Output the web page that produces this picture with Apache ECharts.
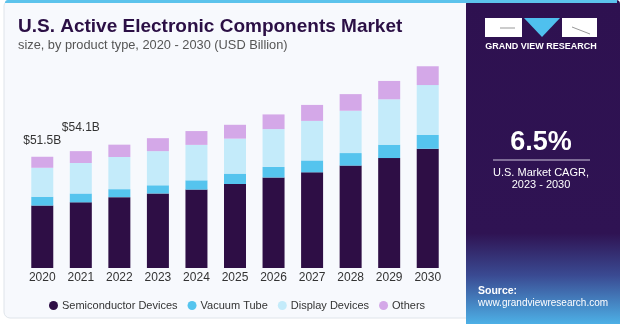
<!DOCTYPE html>
<html>
<head>
<meta charset="utf-8">
<script src="https://cdn.jsdelivr.net/npm/echarts@6/dist/echarts.min.js"></script>
<style>html,body{margin:0;padding:0;background:#fff}#c{width:620px;height:324px}</style>
</head>
<body>
<div id="c"></div>
<script>
const years = ['2020','2021','2022','2023','2024','2025','2026','2027','2028','2029','2030'];
const semiconductor = [28.9, 30.4, 32.8, 34.5, 36.3, 38.9, 41.9, 44.3, 47.4, 50.9, 55.2];
const vacuumTube = [4.1, 4.1, 3.7, 3.8, 4.3, 4.8, 4.9, 5.5, 5.8, 6.2, 6.4];
const displayDevices = [13.4, 14.1, 14.9, 15.8, 16.4, 16.2, 17.5, 18.3, 19.6, 21.0, 23.1];
const others = [5.1, 5.5, 5.7, 6.0, 6.4, 6.4, 6.8, 7.4, 7.7, 8.5, 8.7];
const totalLabels = ['$51.5B', '$54.1B'];
const seriesNames = ['Semiconductor Devices', 'Vacuum Tube', 'Display Devices', 'Others'];

const chart = echarts.init(document.getElementById('c'), null, {renderer: 'canvas'});
const font = 'Liberation Sans, Arial, sans-serif';
const labelDist = [10, 17];
const othersData = others.map((v, i) => {
  if (i < totalLabels.length) {
    return {value: v, label: {show: true, position: 'top', distance: labelDist[i], formatter: totalLabels[i], color: '#333', fontSize: 12, fontFamily: font}};
  }
  return v;
});
const colors = ['#2e0e45', '#55c4ee', '#c4ebfa', '#d4a8e8'];
const datas = [semiconductor, vacuumTube, displayDevices, othersData];

chart.setOption({
  animation: false,
  color: colors,
  grid: {left: 23, right: 173, top: 52, bottom: 56},
  xAxis: {
    type: 'category', data: years,
    axisLine: {show: false}, axisTick: {show: false},
    axisLabel: {color: '#333', fontSize: 12, fontFamily: font, margin: 4}
  },
  yAxis: {type: 'value', min: 0, max: 100, show: false, splitLine: {show: false}},
  legend: {
    left: 44, top: 295, icon: 'circle', itemWidth: 9, itemHeight: 9, itemGap: 10,
    textStyle: {color: '#333', fontSize: 11, fontFamily: font, padding: [0,0,0,-1]},
    data: seriesNames
  },
  series: seriesNames.map((n, k) => ({
    name: n, type: 'bar', stack: 'total', barWidth: 22,
    data: datas[k],
    itemStyle: {color: colors[k]}
  })),
  graphic: [
    {type: 'rect', z: -10, shape: {x: 4, y: 0, width: 475, height: 318, r: 6}, style: {fill: '#f7f9fd', stroke: '#dfe4ea', lineWidth: 1}},
    {type: 'rect', z: -9, shape: {x: 5, y: 0, width: 474, height: 3, r: [3,3,0,0]}, style: {fill: '#5cc3ec'}},
    {type: 'text', left: 18, top: 17, style: {text: 'U.S. Active Electronic Components Market', font: 'bold 19px ' + font, fill: '#2b0f45'}},
    {type: 'text', left: 18, top: 39, style: {text: 'size, by product type, 2020 - 2030 (USD Billion)', font: '12.8px ' + font, fill: '#555'}},
    {type: 'rect', z: 5, shape: {x: 466, y: 0, width: 154, height: 324, r: [4,4,0,0]},
      style: {fill: new echarts.graphic.LinearGradient(0, 0, 0, 1, [
        {offset: 0, color: '#2e1150'}, {offset: 0.72, color: '#2f1353'},
        {offset: 0.85, color: '#3a4a92'}, {offset: 1, color: '#4db0e6'}])}},
    {type: 'rect', z: 6, shape: {x: 466, y: 0, width: 151, height: 3}, style: {fill: '#5cc3ec'}},
    {type: 'rect', z: 6, shape: {x: 485, y: 18, width: 37, height: 19}, style: {fill: '#fff'}},
    {type: 'polygon', z: 6, shape: {points: [[524, 18], [560, 18], [542, 37]]}, style: {fill: '#4fc0ee'}},
    {type: 'rect', z: 6, shape: {x: 562, y: 18, width: 35, height: 19}, style: {fill: '#fff'}},
    {type: 'line', z: 7, shape: {x1: 500, y1: 28, x2: 515, y2: 28}, style: {stroke: '#999', lineWidth: 1}},
    {type: 'line', z: 7, shape: {x1: 572, y1: 27, x2: 590, y2: 34}, style: {stroke: '#999', lineWidth: 1}},
    {type: 'text', z: 7, x: 541, y: 47, style: {text: 'GRAND VIEW RESEARCH', font: 'bold 9px ' + font, fill: '#fff', align: 'center', verticalAlign: 'middle'}},
    {type: 'text', z: 7, x: 541, y: 143, style: {text: '6.5%', font: 'bold 27px ' + font, fill: '#fff', align: 'center', verticalAlign: 'middle'}},
    {type: 'line', z: 7, shape: {x1: 493, y1: 160, x2: 590, y2: 160}, style: {stroke: '#cfc6dc', lineWidth: 1}},
    {type: 'text', z: 7, x: 541, y: 173, style: {text: 'U.S. Market CAGR,', font: '11px ' + font, fill: '#fff', align: 'center', verticalAlign: 'middle'}},
    {type: 'text', z: 7, x: 541, y: 185, style: {text: '2023 - 2030', font: '11px ' + font, fill: '#fff', align: 'center', verticalAlign: 'middle'}},
    {type: 'text', z: 7, x: 478, y: 291, style: {text: 'Source:', font: 'bold 10.5px ' + font, fill: '#fff', verticalAlign: 'middle'}},
    {type: 'text', z: 7, x: 478, y: 303, style: {text: 'www.grandviewresearch.com', font: '10px ' + font, fill: '#fff', verticalAlign: 'middle'}}
  ]
});
</script>
</body>
</html>
